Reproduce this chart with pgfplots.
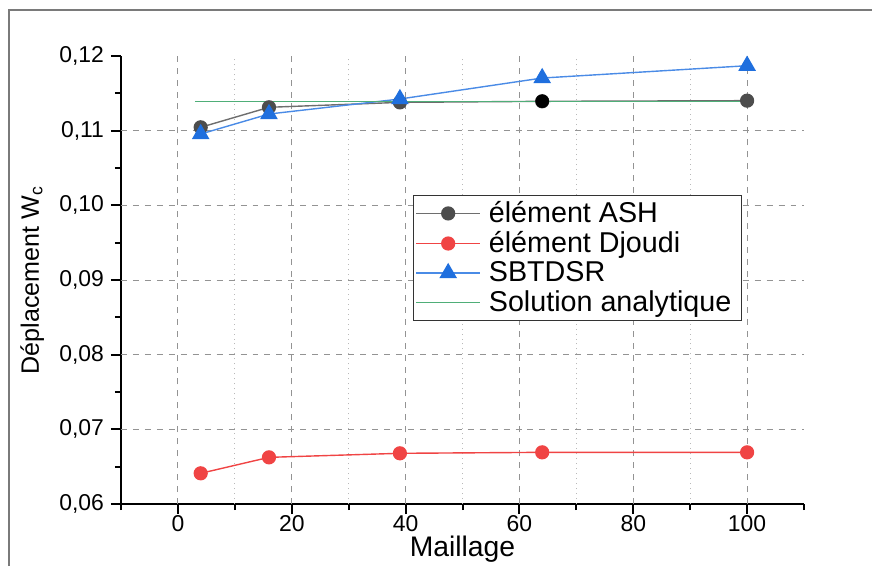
\documentclass[border=0pt]{standalone}
\usepackage{fontspec}
\setmainfont{Liberation Sans}
\usepackage{pgfplots}
\pgfplotsset{compat=1.18}

\definecolor{ashgray}{HTML}{4D4D4D}
\definecolor{ashline}{HTML}{6E6E6E}
\definecolor{djred}{HTML}{F04444}
\definecolor{sbblue}{HTML}{1F6FDE}
\definecolor{sbline}{HTML}{4A8BE6}
\definecolor{angreen}{HTML}{4FAE78}
\definecolor{framegray}{HTML}{7A7A7A}

\begin{document}
\begin{tikzpicture}[x=1bp,y=1bp]
\useasboundingbox (-60.5,-31) rectangle (375.5,252);
% outer frame (top and left edges)
\draw[framegray, line width=0.7bp] (-56,-31) -- (-56,247) -- (375.5,247);
\begin{axis}[
  at={(0,0)}, anchor=south west,
  scale only axis,
  width=341.5bp, height=224bp,
  xmin=-10, xmax=110,
  ymin=0.06, ymax=0.12,
  xtick={0,20,40,60,80,100},
  minor xtick={-10,10,30,50,70,90,110},
  ytick={0.06,0.07,0.08,0.09,0.10,0.11,0.12},
  minor ytick={0.065,0.075,0.085,0.095,0.105,0.115},
  axis lines*=left,
  axis line style={black, line width=1bp},
  tick align=outside,
  major tick length=5bp,
  minor tick length=3bp,
  every tick/.style={black, line width=1bp},
  /pgf/number format/assume math mode=true,
  ticklabel style={font=\fontsize{11.5}{13}\selectfont},
  yticklabel style={/pgf/number format/.cd, fixed, fixed zerofill, precision=2, use comma},
  xticklabel style={yshift=3bp, /pgf/number format/.cd, fixed, precision=0},
  % grid lines drawn through extra ticks so that none lies on the box edges
  extra x ticks={0,20,40,60,80,100},
  extra x tick labels={},
  extra x tick style={grid=major, major tick length=0pt, major grid style={gray!85, dashed, line width=0.5bp}},
  extra y ticks={0.07,0.08,0.09,0.10,0.11},
  extra y tick labels={},
  extra y tick style={grid=major, major tick length=0pt, major grid style={gray!85, dashed, line width=0.5bp}},
  xlabel={Maillage},
  ylabel={Déplacement W\textsubscript{c}},
  xlabel style={font=\fontsize{14.2}{16}\selectfont, at={(axis description cs:0.5,-0.1)}, anchor=center},
  ylabel style={font=\fontsize{12.6}{15}\selectfont, at={(axis description cs:-0.130,0.5)}, anchor=center},
  legend style={
    at={(axis description cs:0.4275,0.69)}, anchor=north west,
    draw=black!80, line width=0.5bp, fill=white,
    font=\fontsize{14.4}{17}\selectfont,
    inner sep=1bp, row sep=-1bp,
    legend cell align=left,
    nodes={inner xsep=4bp},
  },
  legend image code/.code={
    \draw[#1, mark repeat=2, mark phase=2] plot coordinates {(0bp,0bp) (16bp,0bp) (32bp,0bp)};
  },
]
% dotted minor vertical grid
\pgfplotsinvokeforeach{10,30,50,70,90}{
  \draw[gray!55, dotted, line width=0.5bp] (axis cs:#1,0.06) -- (axis cs:#1,0.12);
}

\addplot[ashline, line width=0.7bp, mark=*, mark size=3.2bp,
  mark options={fill=ashgray, draw=ashgray}]
  coordinates {(4,0.11045) (16,0.11313) (39,0.11379) (64,0.11393) (100,0.11402)};
\addlegendentry{élément ASH}

\addplot[djred, line width=0.7bp, mark=*, mark size=3.2bp,
  mark options={fill=djred, draw=djred}]
  coordinates {(4,0.06411) (16,0.06625) (39,0.06679) (64,0.06692) (100,0.06692)};
\addlegendentry{élément Djoudi}

\addplot[sbline, line width=0.7bp, mark=triangle*, mark size=4.4bp,
  mark options={fill=sbblue, draw=sbblue}]
  coordinates {(4,0.10955) (16,0.11223) (39,0.11424) (64,0.11705) (100,0.11870)};
\addlegendentry{SBTDSR}

\addplot[angreen, line width=0.6bp, mark=none]
  coordinates {(3,0.11393) (100,0.11393)};
\addlegendentry{Solution analytique}

\addplot[only marks, mark=*, mark size=3.2bp, mark options={fill=black, draw=black}, forget plot]
  coordinates {(64,0.11395)};
\end{axis}
\end{tikzpicture}
\end{document}
